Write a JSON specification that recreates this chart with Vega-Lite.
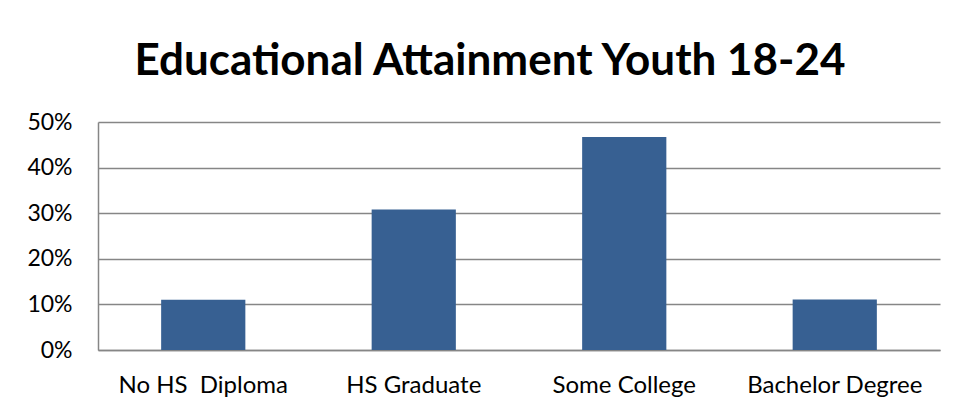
{
  "$schema": "https://vega.github.io/schema/vega-lite/v6.json",
  "width": 842,
  "height": 228,
  "autosize": {"type": "none"},
  "padding": {"left": 98, "top": 122, "right": 16, "bottom": 60},
  "background": "white",
  "title": {
    "text": "Educational Attainment Youth 18-24",
    "font": "Lato",
    "fontSize": 44,
    "fontWeight": "bold",
    "color": "black",
    "anchor": "middle",
    "frame": "group",
    "baseline": "alphabetic",
    "offset": -8,
    "dx": -29
  },
  "data": {
    "values": [
      {"level": "No HS\u00a0 Diploma", "pct": 0.11},
      {"level": "HS Graduate", "pct": 0.308},
      {"level": "Some College", "pct": 0.467},
      {"level": "Bachelor Degree", "pct": 0.111}
    ]
  },
  "mark": {"type": "bar", "color": "#376092"},
  "encoding": {
    "x": {
      "field": "level",
      "type": "nominal",
      "sort": null,
      "scale": {"paddingInner": 0.6, "paddingOuter": 0.3},
      "axis": {
        "title": null,
        "labelAngle": 0,
        "labelFont": "Lato",
        "labelFontSize": 24,
        "labelColor": "black",
        "labelPadding": 23,
        "ticks": false,
        "domainColor": "#868686",
        "domainWidth": 1.5
      }
    },
    "y": {
      "field": "pct",
      "type": "quantitative",
      "scale": {"domain": [0, 0.5]},
      "axis": {
        "title": null,
        "format": ".0%",
        "values": [0, 0.1, 0.2, 0.3, 0.4, 0.5],
        "labelFont": "Lato",
        "labelFontSize": 23,
        "labelColor": "black",
        "labelPadding": 26,
        "ticks": false,
        "domainColor": "#868686",
        "domainWidth": 1.5,
        "gridColor": "#868686",
        "gridWidth": 1.5
      }
    }
  },
  "config": {"view": {"stroke": null}}
}
